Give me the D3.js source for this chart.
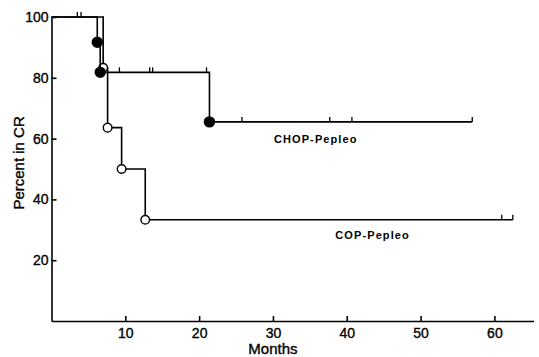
<!DOCTYPE html>
<html>
<head>
<meta charset="utf-8">
<script src="https://cdn.jsdelivr.net/npm/d3@7"></script>
<style>
  body { margin: 0; background: #fff; }
  svg { display: block; font-family: "Liberation Sans", Arial, sans-serif; }
  .axis path, .axis line { stroke: #000; stroke-width: 1.6; }
  .axis text { font-size: 14px; fill: #000; stroke: #000; stroke-width: 0.35; }
  .curve { fill: none; stroke: #000; stroke-width: 1.6; }
  .group_label { font-size: 11px; font-weight: bold; letter-spacing: 1.1px; }
  .title { font-size: 15px; stroke: #000; stroke-width: 0.35; }
</style>
</head>
<body>
<svg id="main_chart" width="539" height="357"></svg>
<script>
// months / percent still in complete remission
const chop_steps = [
  { 'month': 0, 'pct': 100 },
  { 'month': 6.2, 'pct': 91.7 },
  { 'month': 6.6, 'pct': 81.8 },
  { 'month': 21.4, 'pct': 65.5 }
];
const chop_end = 57;
const chop_censored = [3.5, 4.0, 9.2, 13.3, 13.7, 21.0, 25.8, 37.7, 40.7, 57];

const cop_steps = [
  { 'month': 0, 'pct': 100 },
  { 'month': 7.0, 'pct': 83.3 },
  { 'month': 7.6, 'pct': 63.6 },
  { 'month': 9.5, 'pct': 50 },
  { 'month': 12.7, 'pct': 33.3 }
];
const cop_end = 62.5;
const cop_censored = [61.0, 62.5];

const x_ticks = [10, 20, 30, 40, 50, 60];
const y_ticks = [20, 40, 60, 80, 100];

const svg = d3.select('#main_chart');
const xScale = d3.scaleLinear().domain([0, 65.3]).range([51.5, 533.5]);
const yScale = d3.scaleLinear().domain([0, 100]).range([321, 17]);

svg.append('g').attr('class', 'axis').attr('transform', 'translate(0,' + yScale(0) + ')')
  .call(d3.axisBottom(xScale).tickValues(x_ticks).tickSizeInner(-5).tickSizeOuter(0).tickPadding(7));
svg.append('g').attr('class', 'axis').attr('transform', 'translate(' + xScale(0) + ',0)')
  .call(d3.axisLeft(yScale).tickValues(y_ticks).tickSizeInner(-5).tickSizeOuter(0).tickPadding(3));

const line = d3.line().curve(d3.curveStepAfter).x(function(d) {
  return xScale(d.month);
}).y(function(d) {
  return yScale(d.pct);
});

function levelAt(steps, m) {
  let p = steps[0].pct;
  steps.forEach(function(s) { if (s.month <= m) p = s.pct; });
  return p;
}

function drawGroup(steps, end, censored, filled) {
  const last = steps[steps.length - 1].pct;
  const pts = steps.concat([{ 'month': end, 'pct': last }]);
  svg.append('path').attr('class', 'curve').attr('d', line(pts));

  // censored patients: little upward ticks on the curve
  svg.selectAll(null).data(censored).enter().append('line')
    .attr('x1', function(d) { return xScale(d); })
    .attr('x2', function(d) { return xScale(d); })
    .attr('y1', function(d) { return yScale(levelAt(steps, d)); })
    .attr('y2', function(d) { return yScale(levelAt(steps, d)) - 5; })
    .attr('stroke', '#000').attr('stroke-width', 1.3);

  svg.selectAll(null).data(steps.slice(1)).enter().append('circle')
    .attr('cx', function(d) { return xScale(d.month); })
    .attr('cy', function(d) { return yScale(d.pct); })
    .attr('r', filled ? 5 : 4.3)
    .attr('fill', filled ? '#000' : '#fff')
    .attr('stroke', '#000').attr('stroke-width', 1.4);
}

drawGroup(cop_steps, cop_end, cop_censored, false);
drawGroup(chop_steps, chop_end, chop_censored, true);

svg.append('text').attr('class', 'group_label').attr('x', xScale(35.8)).attr('y', yScale(58.4))
  .attr('text-anchor', 'middle').text('CHOP-Pepleo');
svg.append('text').attr('class', 'group_label').attr('x', xScale(43.5)).attr('y', yScale(26.9))
  .attr('text-anchor', 'middle').text('COP-Pepleo');

svg.append('text').attr('class', 'title').attr('x', xScale(30)).attr('y', 354).attr('text-anchor', 'middle')
  .text('Months');
svg.append('text').attr('class', 'title').attr('transform', 'translate(24,' + yScale(52) + ') rotate(-90)')
  .attr('text-anchor', 'middle').text('Percent in CR');
</script>
</body>
</html>
